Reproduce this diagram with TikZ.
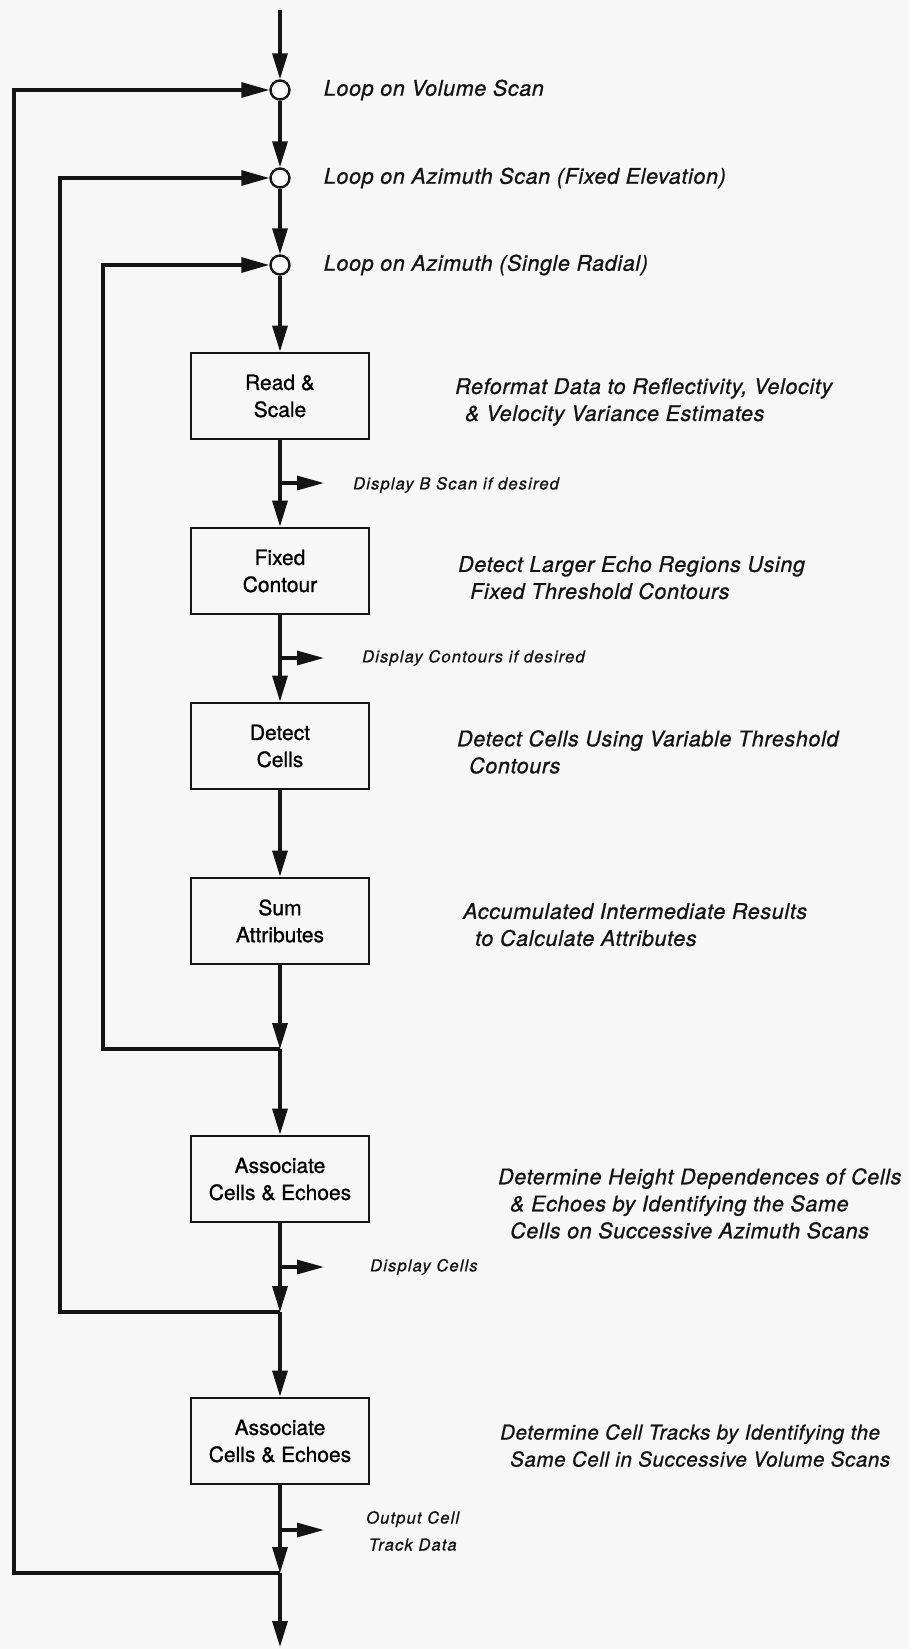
\documentclass[tikz,border=0pt]{standalone}
\usepackage{fontspec}
\setsansfont[FakeBold=0.9]{TeX Gyre Heros}
\newfontfamily\notefont[LetterSpace=3, FakeBold=0.9]{TeX Gyre Heros}
\newfontfamily\tapfont[LetterSpace=7, FakeBold=0.9]{TeX Gyre Heros}
\usetikzlibrary{positioning, arrows.meta}
\colorlet{paper}{black!3}
\colorlet{ink}{black!92}
\tikzset{
  stage/.style   ={draw=ink, line width=2.8pt, fill=paper, inner sep=0pt,
                   minimum width=178pt, minimum height=86pt, align=center,
                   font=\sffamily\fontsize{21}{27}\selectfont},
  knot/.style    ={circle, draw=ink, fill=white, line width=2.4pt,
                   minimum size=19pt, inner sep=0pt},
  flow/.style    ={draw=ink, line width=3.4pt,
                   -{Triangle[length=26pt, width=15pt]}},
  feedback/.style={flow, line width=3.2pt,
                   -{Triangle[length=28pt, width=15pt]}},
  tap/.style     ={draw=ink, line width=3.2pt,
                   -{Triangle[length=27pt, width=14pt]}},
  note/.style    ={anchor=north west, inner sep=0pt, align=left, text=ink,
                   font=\notefont\itshape\fontsize{21.5}{27}\selectfont},
  looplabel/.style={note, anchor=west},
  tapnote/.style ={anchor=west, inner sep=0pt, align=center, text=ink,
                   font=\tapfont\itshape\fontsize{16.5}{27}\selectfont},
}

\begin{document}
\begin{tikzpicture}[x=1pt, y=-1pt]

\fill[paper] (0,0) rectangle (909,1649);
\useasboundingbox (0,0) rectangle (909,1649);

% loop entry points
\coordinate (top) at (280,10);
\foreach \name/\y/\txt in {vol/90/{Loop on Volume Scan},
                           azs/178/{Loop on Azimuth Scan (Fixed Elevation)},
                           azr/265/{Loop on Azimuth (Single Radial)}} {
  \node[knot] (\name) at (280,\y) {};
  \node[looplabel, right=33pt of \name] (\name-lbl) {\txt};
}

% processing stages
\node[stage] (read)   at (280,396)  {Read \&\\Scale};
\node[stage] (fixed)  at (280,571)  {Fixed\\Contour};
\node[stage] (detect) at (280,746)  {Detect\\Cells};
\node[stage] (sum)    at (280,921)  {Sum\\Attributes};
\node[stage] (assoc1) at (280,1179) {Associate\\Cells \& Echoes};
\node[stage] (assoc2) at (280,1441) {Associate\\Cells \& Echoes};

\node[note] (read-note)   at (455,378)
  {Reformat Data to Reflectivity, Velocity\\\hspace*{10pt}\& Velocity Variance Estimates};
\node[note] (fixed-note)  at (458,556)
  {Detect Larger Echo Regions Using\\\hspace*{12pt}Fixed Threshold Contours};
\node[note] (detect-note) at (457,730)
  {Detect Cells Using Variable Threshold\\\hspace*{12pt}Contours};
\node[note] (sum-note)    at (463,903)
  {Accumulated Intermediate Results\\\hspace*{12pt}to Calculate Attributes};
\node[note] (assoc1-note) at (498,1168)
  {Determine Height Dependences of Cells\\\hspace*{12pt}\& Echoes by Identifying the Same\\\hspace*{12pt}Cells on Successive Azimuth Scans};
\node[note, font=\notefont\itshape\fontsize{20.5}{27}\selectfont]
  (assoc2-note) at (500,1424)
  {Determine Cell Tracks by Identifying the\\\hspace*{10pt}Same Cell in Successive Volume Scans};

% taps and junctions
\coordinate (b1) at (280,483);  \coordinate (t1) at (324,483);
\coordinate (b2) at (280,658);  \coordinate (t2) at (324,658);
\coordinate (b3) at (280,1267); \coordinate (t3) at (324,1267);
\coordinate (b4) at (280,1530); \coordinate (t4) at (324,1530);
\coordinate (j3) at (280,1049); \coordinate (x3) at (103,0);
\coordinate (j2) at (280,1312); \coordinate (x2) at (60,0);
\coordinate (j1) at (280,1573); \coordinate (x1) at (14,0);
\coordinate (bottom) at (280,1647);

\node[tapnote] (b1-lbl) at (353,485)  {Display B Scan if desired};
\node[tapnote] (b2-lbl) at (362,658)  {Display Contours if desired};
\node[tapnote] (b3-lbl) at (370,1267) {Display Cells};
\node[tapnote] (b4-lbl) at (366,1531) {Output Cell\\Track Data};

% main flow
\draw[flow] (top) -- (vol);
\draw[flow] (vol) -- (azs);
\draw[flow] (azs) -- (azr);
\draw[flow] (azr) -- (read);
\draw[flow] (read) -- (fixed);
\draw[flow] (fixed) -- (detect);
\draw[flow] (detect) -- (sum);
\draw[flow] (sum) -- (j3);
\draw[flow] (j3) -- (assoc1);
\draw[flow] (assoc1) -- (j2);
\draw[flow] (j2) -- (assoc2);
\draw[flow] (assoc2) -- (j1);
\draw[flow] (j1) -- (bottom);

\draw[tap] (b1) -- (t1);
\draw[tap] (b2) -- (t2);
\draw[tap] (b3) -- (t3);
\draw[tap] (b4) -- (t4);

% feedback loops
\draw[feedback] (j3) -- (j3 -| x3) |- (azr);
\draw[feedback] (j2) -- (j2 -| x2) |- (azs);
\draw[feedback] (j1) -- (j1 -| x1) |- (vol);

\end{tikzpicture}
\end{document}
